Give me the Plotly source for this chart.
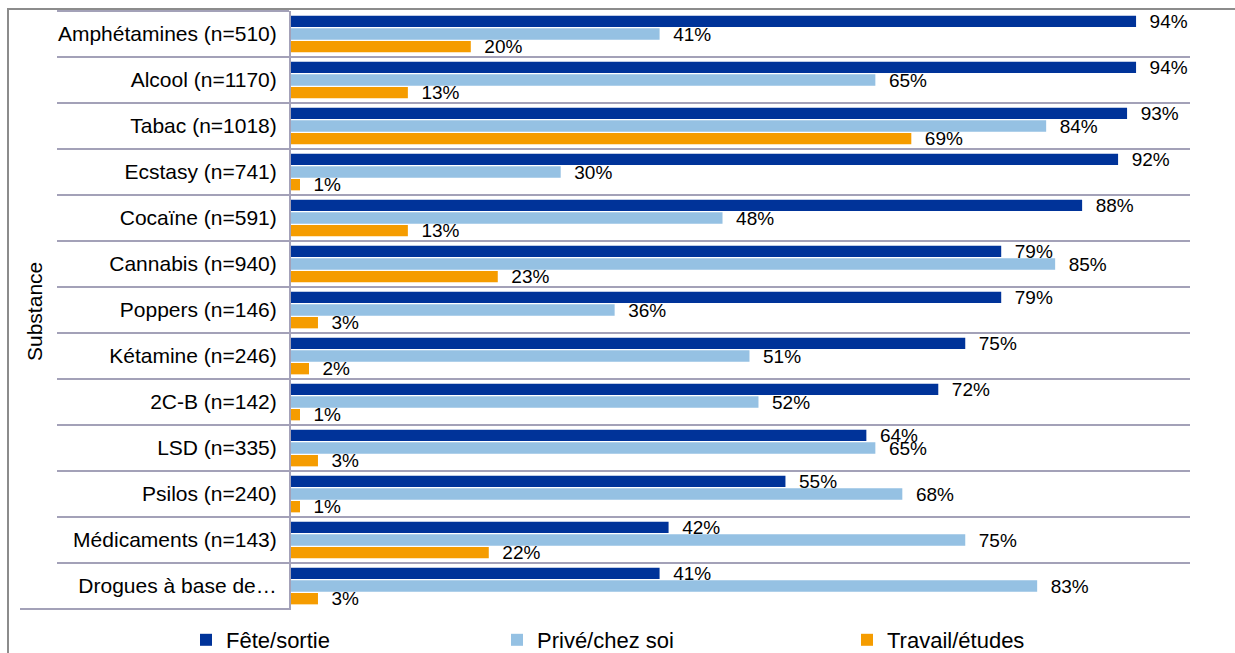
import plotly.graph_objects as go

categories = [
    "Amphétamines (n=510)", "Alcool (n=1170)", "Tabac (n=1018)", "Ecstasy (n=741)",
    "Cocaïne (n=591)", "Cannabis (n=940)", "Poppers (n=146)", "Kétamine (n=246)",
    "2C-B (n=142)", "LSD (n=335)", "Psilos (n=240)", "Médicaments (n=143)",
    "Drogues à base de…",
]
fete = [94, 94, 93, 92, 88, 79, 79, 75, 72, 64, 55, 42, 41]
prive = [41, 65, 84, 30, 48, 85, 36, 51, 52, 65, 68, 75, 83]
travail = [20, 13, 69, 1, 13, 23, 3, 2, 1, 3, 1, 22, 3]
series_names = ["Fête/sortie", "Privé/chez soi", "Travail/études"]
colors = ["#003399", "#95C1E3", "#F59C00"]
legend_ids = ["legend", "legend2", "legend3"]

FONT = "Arial, Liberation Sans, sans-serif"
GRID = "#A3A1B8"

fig = go.Figure()
for name, vals, col, lg in zip(series_names, [fete, prive, travail], colors, legend_ids):
    fig.add_trace(go.Bar(
        y=categories, x=vals, name=name, orientation="h",
        marker=dict(color=col, line=dict(width=0)),
        text=[f"\u00a0\u00a0{v}%" for v in vals],
        textposition="outside", constraintext="none", cliponaxis=False,
        textfont=dict(family=FONT, size=19, color="#000000"),
        hoverinfo="x+y", legend=lg,
    ))

legend_text_x = [226, 537, 887]


def make_legend(px):
    return dict(
        orientation="h", xref="container", yref="container",
        x=(px - 40) / 1235, xanchor="left", y=1 - 619 / 653, yanchor="top",
        font=dict(family=FONT, size=22, color="#000000"),
        bgcolor="rgba(0,0,0,0)",
    )


fig.update_layout(
    width=1235, height=653,
    barmode="group", bargap=0.174, bargroupgap=0.1,
    plot_bgcolor="white", paper_bgcolor="white",
    margin=dict(l=291, r=45, t=11, b=44),
    font=dict(family=FONT, size=18, color="#000000"),
    showlegend=True,
    legend=make_legend(legend_text_x[0]),
    legend2=make_legend(legend_text_x[1]),
    legend3=make_legend(legend_text_x[2]),
    xaxis=dict(range=[0, 100], showgrid=False, zeroline=False,
               showticklabels=False, ticks="", showline=False, fixedrange=True),
    yaxis=dict(
        autorange="reversed", type="category",
        tickson="boundaries", ticks="outside", ticklen=232, tickwidth=2,
        tickcolor=GRID, showgrid=True, gridcolor=GRID, gridwidth=2,
        showline=True, linecolor=GRID, linewidth=2,
        ticklabelstandoff=8,
        tickfont=dict(family=FONT, size=21, color="#000000"),
        automargin=False,
    ),
    annotations=[dict(
        text="Substance", textangle=-90, xref="paper", yref="paper",
        x=(34 - 291) / 899, y=(609 - 312) / 598, xanchor="center", yanchor="middle",
        showarrow=False, font=dict(family=FONT, size=21, color="#000000"),
    )],
    shapes=[
        dict(
            type="rect", xref="paper", yref="paper",
            x0=(8 - 291) / 899, x1=(1250 - 291) / 899,
            y0=(609 - 670) / 598, y1=(609 - 9) / 598,
            line=dict(color="#8C8C8C", width=2), fillcolor="rgba(0,0,0,0)", layer="below",
        ),
        dict(
            type="line", xref="paper", yref="paper",
            x0=(20 - 291) / 899, x1=0, y0=0, y1=0,
            line=dict(color=GRID, width=2), layer="below",
        ),
    ],
)

fig.write_html("out.html")
